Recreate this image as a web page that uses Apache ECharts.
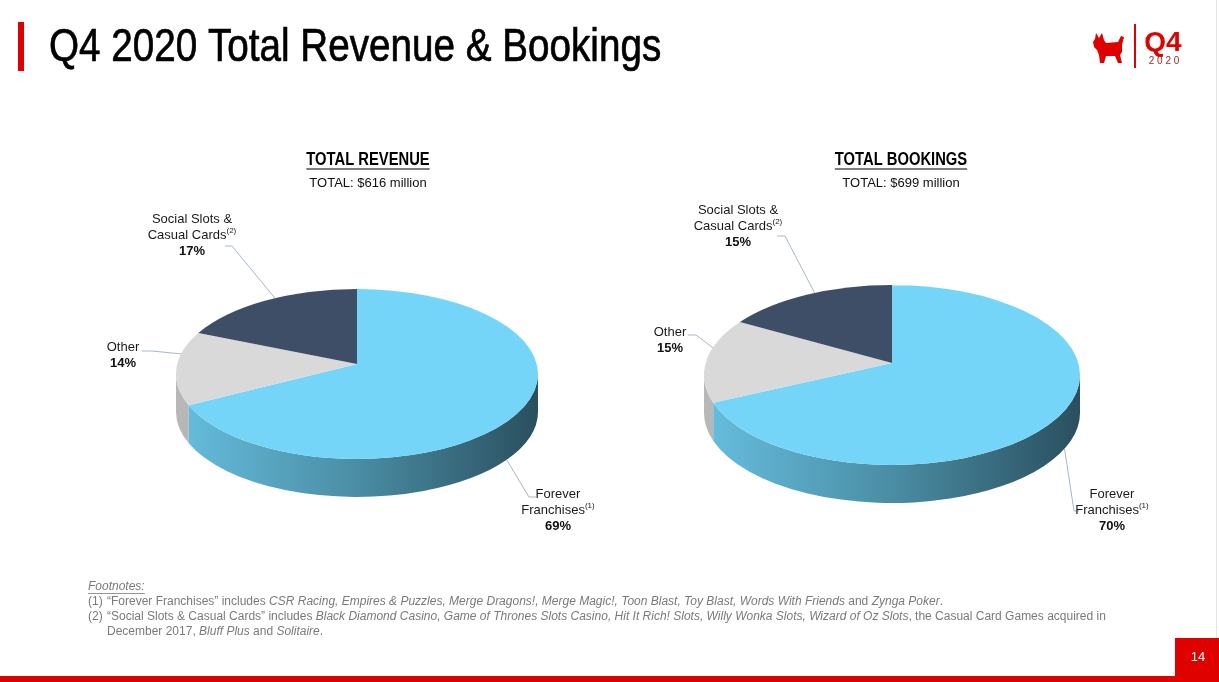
<!DOCTYPE html>
<html><head><meta charset="utf-8">
<script src="https://cdn.jsdelivr.net/npm/echarts@6/dist/echarts.min.js"></script>
<style>html,body{margin:0;padding:0;background:#fff}#c{width:1219px;height:682px}</style>
</head><body><div id="c"></div>
<script>
// ---------- data ----------
const categories = ['Forever Franchises', 'Other', 'Social Slots & Casual Cards'];
const categoryLines = [['Forever', 'Franchises'], ['Other'], ['Social Slots &', 'Casual Cards']];
const footnoteRefs = ['(1)', '', '(2)'];
const revenueShare = [69, 14, 17];
const bookingsShare = [70, 15, 15];
const panelTitles = ['TOTAL REVENUE', 'TOTAL BOOKINGS'];
const panelTotals = ['TOTAL: $616 million', 'TOTAL: $699 million'];
const pageTitle = 'Q4 2020 Total Revenue & Bookings';
const pageNumber = '14';

// ---------- styles / layout ----------
const RED = '#DF0000';
const topColors = ['#74D5F9', '#D9D9D9', '#3F4E67'];
const wallStops = [
  [[0, '#66BEDF'], [0.5, '#4A8DA4'], [1, '#2A4F5F']],
  [[0, '#B8B8B8'], [1, '#8A8A8A']],
  [[0, '#333F53'], [1, '#232C3A']]
];
const SANS = '"Liberation Sans",Arial,sans-serif';

const pieLayouts = [
  { cx: 357, cy: 374, rx: 181, ry: 85, h: 38, apexDy: -10, titleX: 368,
    labels: [
      { x: 558, y: 486, anchor: 0.5, lead: [[536, 497], [529, 497]] },
      { x: 123, y: 339, anchor: 0.7, lead: [[142, 351], [152, 351]] },
      { x: 192, y: 211, anchor: 0.56, lead: [[225, 246], [232, 246]] }
    ] },
  { cx: 892, cy: 375, rx: 188, ry: 90, h: 38, apexDy: -12, titleX: 901,
    labels: [
      { x: 1112, y: 486, anchor: 0.45, lead: [[1079, 511], [1074, 511]] },
      { x: 670, y: 324, anchor: 0.66, lead: [[688, 335], [696, 335]] },
      { x: 738, y: 202, anchor: 0.55, lead: [[777, 236], [785, 236]] }
    ] }
];

function f(p) { return p[0].toFixed(2) + ' ' + p[1].toFixed(2); }

function makeRender(L, shares) {
  const total = shares.reduce((a, b) => a + b, 0);
  return function (params, api) {
    const i = params.dataIndex;
    const v = api.value(0), start = api.value(1);
    const a0 = start / total * 360, a1 = (start + v) / total * 360;
    const P = (deg, dy) => {
      const r = deg * Math.PI / 180;
      return [L.cx + L.rx * Math.sin(r), L.cy - L.ry * Math.cos(r) + (dy || 0)];
    };
    const children = [];
    const w0 = Math.max(a0, 90), w1 = Math.min(a1, 270);
    if (w1 > w0) {
      const large = (w1 - w0) > 180 ? 1 : 0;
      const d = 'M' + f(P(w0)) + ' A' + L.rx + ' ' + L.ry + ' 0 ' + large + ' 1 ' + f(P(w1)) +
        ' L' + f(P(w1, L.h)) + ' A' + L.rx + ' ' + L.ry + ' 0 ' + large + ' 0 ' + f(P(w0, L.h)) + ' Z';
      children.push({
        type: 'path', z2: 1,
        shape: { pathData: d },
        style: {
          fill: { type: 'linear', x: L.cx - L.rx, y: 0, x2: L.cx + L.rx, y2: 0, global: true,
            colorStops: wallStops[i].map(s => ({ offset: s[0], color: s[1] })) },
          stroke: null
        }
      });
    }
    const apex = [L.cx, L.cy + L.apexDy];
    const largeT = (a1 - a0) > 180 ? 1 : 0;
    const dt = 'M' + f(apex) + ' L' + f(P(a0)) + ' A' + L.rx + ' ' + L.ry + ' 0 ' + largeT + ' 1 ' + f(P(a1)) + ' Z';
    children.push({ type: 'path', z2: 2, shape: { pathData: dt }, style: { fill: topColors[i], stroke: null } });
    const lab = L.labels[i];
    const aA = a0 + lab.anchor * (a1 - a0);
    const front = aA > 90 && aA < 270;
    const end = P(aA, front ? L.h : 0);
    children.push({ type: 'polyline', z2: 3, shape: { points: [lab.lead[0], lab.lead[1], end] },
      style: { stroke: '#A9B6C9', lineWidth: 1, fill: null } });
    const lines = categoryLines[i].map((t, k, arr) =>
      '{n|' + t + '}' + (k === arr.length - 1 && footnoteRefs[i] ? '{s|' + footnoteRefs[i] + '}' : ''));
    lines.push('{p|' + v + '%}');
    children.push({
      type: 'text', z2: 4,
      style: {
        x: lab.x, y: lab.y, text: lines.join('\n'), align: 'center', verticalAlign: 'top',
        rich: {
          n: { fontSize: 13, fontFamily: SANS, fill: '#1a1a1a', lineHeight: 16 },
          s: { fontSize: 8, fontFamily: SANS, fill: '#1a1a1a', lineHeight: 16, verticalAlign: 'top', padding: [0, 0, 6, 0] },
          p: { fontSize: 13, fontFamily: SANS, fontWeight: 'bold', fill: '#111', lineHeight: 16 }
        }
      }
    });
    return { type: 'group', children };
  };
}

function pieData(shares) {
  let cum = 0;
  return shares.map((s, k) => { const d = { name: categories[k], value: [s, cum] }; cum += s; return d; });
}

const allShares = [revenueShare, bookingsShare];
const series = pieLayouts.map((L, j) => ({
  type: 'custom', coordinateSystem: 'none', silent: true,
  renderItem: makeRender(L, allShares[j]),
  data: pieData(allShares[j])
}));

const mc = document.createElement('canvas').getContext('2d');
function tw(text, font) { mc.font = font; return mc.measureText(text).width; }

const graphics = [];
graphics.push({ type: 'rect', shape: { x: 18, y: 22, width: 6, height: 49 }, style: { fill: RED } });
graphics.push({ type: 'text', x: 49, y: 48, scaleX: 0.84, originX: 0, originY: 0,
  style: { x: 0, y: 0, text: pageTitle, font: '46px ' + SANS, fill: '#000', stroke: '#000', lineWidth: 0.7, verticalAlign: 'middle' } });
// logo
graphics.push({ type: 'polygon', shape: { points: [[1096,33],[1099,38],[1102,33],[1104,40],[1106,43],[1118,42],[1121,36],[1124,37],[1122,45],[1122,52],[1120,55],[1122,63],[1118,63],[1115,56],[1106,56],[1104,63],[1100,63],[1099,55],[1097,50],[1094,47],[1093,42],[1095,39]] }, style: { fill: RED } });
graphics.push({ type: 'rect', shape: { x: 1134, y: 24, width: 2, height: 44 }, style: { fill: RED } });
graphics.push({ type: 'text', style: { x: 1163, y: 43, text: 'Q4', font: 'bold 28px ' + SANS, fill: RED, align: 'center', verticalAlign: 'middle' } });
graphics.push({ type: 'text', style: { x: 1164, y: 61, text: '2 0 2 0', font: '10px ' + SANS, fill: '#A02A2A', align: 'center', verticalAlign: 'middle' } });
// panel titles
const TSCALE = 0.82;
pieLayouts.forEach((L, j) => {
  const tf = 'bold 18px ' + SANS;
  const w = tw(panelTitles[j], tf) * TSCALE;
  graphics.push({ type: 'text', x: L.titleX, y: 160, scaleX: TSCALE,
    style: { x: 0, y: 0, text: panelTitles[j], font: tf, fill: '#000', align: 'center', verticalAlign: 'middle' } });
  graphics.push({ type: 'line', shape: { x1: L.titleX - w / 2, y1: 169, x2: L.titleX + w / 2, y2: 169 }, style: { stroke: '#000', lineWidth: 1.2 } });
  graphics.push({ type: 'text', style: { x: L.titleX, y: 183, text: panelTotals[j], font: '13px ' + SANS, fill: '#111', align: 'center', verticalAlign: 'middle' } });
});
// footnotes
const FG = '#7A7A7A';
const FS = 12;
const fnRich = {
  n: { fontSize: FS, fontFamily: SANS, fill: FG },
  i: { fontSize: FS, fontFamily: SANS, fill: FG, fontStyle: 'italic' }
};
const fnHead = 'Footnotes:';
graphics.push({ type: 'text', style: { x: 88, y: 587, text: fnHead, font: 'italic ' + FS + 'px ' + SANS, fill: FG, verticalAlign: 'middle' } });
graphics.push({ type: 'line', shape: { x1: 88, y1: 593.5, x2: 88 + tw(fnHead, 'italic ' + FS + 'px ' + SANS), y2: 593.5 }, style: { stroke: FG, lineWidth: 0.8 } });
graphics.push({ type: 'text', style: { x: 88, y: 602, text: '(1)', font: FS + 'px ' + SANS, fill: FG, verticalAlign: 'middle' } });
graphics.push({ type: 'text', style: { x: 88, y: 617, text: '(2)', font: FS + 'px ' + SANS, fill: FG, verticalAlign: 'middle' } });
graphics.push({ type: 'text', style: { x: 107, y: 602, verticalAlign: 'middle', rich: fnRich,
  text: '{n|“Forever Franchises” includes }{i|CSR Racing, Empires & Puzzles, Merge Dragons!, Merge Magic!, Toon Blast, Toy Blast, Words With Friends}{n| and }{i|Zynga Poker}{n|.}' } });
graphics.push({ type: 'text', style: { x: 107, y: 617, verticalAlign: 'middle', rich: fnRich,
  text: '{n|“Social Slots & Casual Cards” includes }{i|Black Diamond Casino, Game of Thrones Slots Casino, Hit It Rich! Slots, Willy Wonka Slots, Wizard of Oz Slots}{n|, the Casual Card Games acquired in}' } });
graphics.push({ type: 'text', style: { x: 107, y: 632, verticalAlign: 'middle', rich: fnRich,
  text: '{n|December 2017, }{i|Bluff Plus}{n| and }{i|Solitaire}{n|.}' } });
// footer
graphics.push({ type: 'rect', shape: { x: 1216, y: 0, width: 1, height: 640 }, style: { fill: '#E4E4E4' } });
graphics.push({ type: 'rect', shape: { x: 0, y: 676, width: 1219, height: 6 }, style: { fill: RED } });
graphics.push({ type: 'rect', shape: { x: 1175, y: 638, width: 44, height: 44 }, style: { fill: RED } });
graphics.push({ type: 'text', style: { x: 1198, y: 657, text: pageNumber, font: '13px ' + SANS, fill: '#fff', align: 'center', verticalAlign: 'middle' } });

const chart = echarts.init(document.getElementById('c'), null, { renderer: 'canvas' });
chart.setOption({
  backgroundColor: '#fff',
  animation: false,
  graphic: { elements: graphics },
  series
});
</script></body></html>
